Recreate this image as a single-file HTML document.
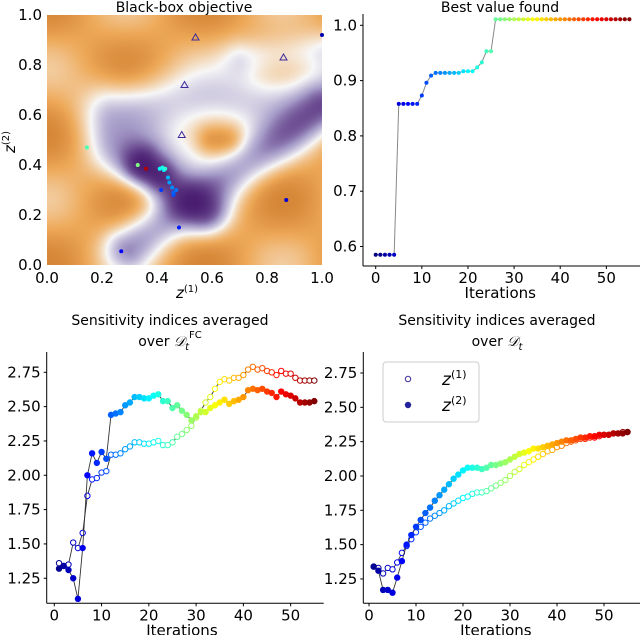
<!DOCTYPE html>
<html><head><meta charset="utf-8"><style>
body{margin:0;background:#fff;width:640px;height:635px;overflow:hidden;font-family:"DejaVu Sans","Liberation Sans",sans-serif}
#wrap{position:relative;width:640px;height:635px}
canvas{position:absolute;left:47px;top:15px}
svg{position:absolute;left:0;top:0}
</style></head><body>
<div id="wrap">
<canvas id="heat" width="275" height="250"></canvas>
<svg id="fig" width="640" height="635"></svg>
</div>
<script>
// ---- data ----
const bestIters=[...Array(56).keys()];
const bestValues=[0.585,0.585,0.585,0.585,0.585,0.858,0.858,0.858,0.858,0.858,0.873,0.896,0.909,0.914,0.914,0.914,0.914,0.914,0.914,0.917,0.917,0.917,0.924,0.933,0.953,0.953,1.011,1.011,1.011,1.011,1.011,1.011,1.011,1.011,1.011,1.011,1.011,1.011,1.011,1.011,1.011,1.011,1.011,1.011,1.011,1.011,1.011,1.011,1.011,1.011,1.011,1.011,1.011,1.011,1.011,1.011];
const bestYTicks=[0.6,0.7,0.8,0.9,1.0];
const iterTicks=[0,10,20,30,40,50];
const sensIters=[...Array(55).keys()].map(i=>i+1);
const fcZ1=[1.36,1.34,1.35,1.51,1.47,1.58,1.85,1.97,1.98,2.02,2.03,2.15,2.15,2.16,2.19,2.21,2.24,2.24,2.23,2.23,2.24,2.25,2.22,2.22,2.24,2.28,2.30,2.33,2.36,2.42,2.47,2.53,2.57,2.63,2.68,2.70,2.69,2.71,2.71,2.73,2.77,2.79,2.77,2.78,2.76,2.75,2.73,2.76,2.74,2.74,2.71,2.69,2.69,2.69,2.69];
const fcZ2=[1.32,1.34,1.31,1.25,1.10,1.47,2.00,2.16,2.09,2.17,2.12,2.44,2.45,2.46,2.51,2.53,2.57,2.57,2.56,2.56,2.58,2.59,2.54,2.54,2.49,2.51,2.47,2.44,2.40,2.43,2.46,2.46,2.49,2.51,2.53,2.55,2.52,2.54,2.55,2.57,2.62,2.63,2.62,2.63,2.61,2.60,2.57,2.61,2.59,2.58,2.56,2.53,2.53,2.53,2.54];
const dZ1=[1.34,1.33,1.29,1.33,1.32,1.37,1.44,1.49,1.54,1.59,1.63,1.66,1.69,1.71,1.73,1.75,1.78,1.80,1.82,1.84,1.85,1.87,1.88,1.88,1.89,1.91,1.93,1.95,1.97,2.00,2.03,2.05,2.08,2.10,2.12,2.14,2.16,2.18,2.19,2.21,2.22,2.24,2.25,2.26,2.27,2.27,2.28,2.28,2.29,2.30,2.30,2.31,2.31,2.32,2.32];
const dZ2=[1.34,1.31,1.17,1.17,1.15,1.26,1.38,1.50,1.57,1.63,1.68,1.73,1.77,1.82,1.86,1.90,1.94,1.98,2.01,2.04,2.06,2.06,2.06,2.05,2.06,2.08,2.08,2.09,2.10,2.12,2.14,2.16,2.17,2.18,2.20,2.20,2.21,2.22,2.23,2.24,2.25,2.26,2.26,2.27,2.28,2.28,2.29,2.29,2.30,2.30,2.30,2.31,2.31,2.31,2.32];
const sensYTicks=[1.25,1.50,1.75,2.00,2.25,2.50,2.75];
const unitTicks=[0.0,0.2,0.4,0.6,0.8,1.0];
const triX=[0.54,0.86,0.50,0.49];
const triY=[0.91,0.83,0.72,0.52];
const ptX=[1.0,0.87,0.27,0.48,0.415,0.46,0.46,0.47,0.455,0.445,0.44,0.145,0.33,0.41,0.42,0.425,0.43,0.36];
const ptY=[0.92,0.26,0.055,0.15,0.30,0.28,0.29,0.30,0.31,0.33,0.35,0.47,0.40,0.385,0.39,0.38,0.385,0.385];
const ptT=[0.05,0.08,0.12,0.15,0.18,0.2,0.22,0.24,0.26,0.28,0.3,0.45,0.5,0.38,0.4,0.36,0.42,0.95];

// ---- helpers ----
const NS='http://www.w3.org/2000/svg';
const svg=document.getElementById('fig');
function el(tag,attrs,parent){const e=document.createElementNS(NS,tag);for(const k in attrs)e.setAttribute(k,attrs[k]);(parent||svg).appendChild(e);return e;}
function cl(v){return Math.max(0,Math.min(1,v));}
function jet(t){const r=cl(1.5-Math.abs(4*t-3)),g=cl(1.5-Math.abs(4*t-2)),b=cl(1.5-Math.abs(4*t-1));return `rgb(${Math.round(r*255)},${Math.round(g*255)},${Math.round(b*255)})`;}
function txt(x,y,s,size,anchor,parent){const t=el('text',{x:x,y:y,'font-size':size,'text-anchor':anchor||'middle',fill:'#000'},parent);t.innerHTML=s;return t;}

// ---- heatmap ----
(function(){
 const c=document.getElementById('heat'),ctx=c.getContext('2d'),W=275,H=250;
 const img=ctx.createImageData(W,H);
 function seg(x,y,ax,ay,bx,by){const dx=bx-ax,dy=by-ay;let t=((x-ax)*dx+(y-ay)*dy)/(dx*dx+dy*dy);t=Math.max(0,Math.min(1,t));const px=ax+t*dx-x,py=ay+t*dy-y;return px*px+py*py;}
 function g(d2,s){return Math.exp(-d2/(2*s*s));}
 const stops=[[-1,[179,88,6]],[-0.5,[238,170,90]],[0,[247,247,247]],[0.5,[165,155,200]],[1,[60,10,100]]];
 function cmap(v){v=Math.max(-1,Math.min(1,v));for(let i=0;i<stops.length-1;i++){const a=stops[i],b=stops[i+1];if(v<=b[0]){const t=(v-a[0])/(b[0]-a[0]);return a[1].map((c,k)=>c+(b[1][k]-c)*t);}}return stops[4][1];}
 for(let j=0;j<H;j++)for(let i=0;i<W;i++){
  const x=i/(W-1),y=1-j/(H-1);
  const base=-0.5-0.25*Math.cos(11*x)*Math.cos(12*y);
  let S=0;
  S+=0.8*g(seg(x,y,0.30,0.07,1.0,0.62),0.065);
  S+=0.8*g(seg(x,y,0.34,0.40,0.58,0.20),0.06);
  S+=0.6*g(seg(x,y,0.36,0.38,0.40,0.36),0.05);
  S+=0.62*g(seg(x,y,0.24,0.62,1.0,0.68),0.09);
  S+=0.45*g(seg(x,y,0.72,0.83,1.0,0.86),0.06);
  S+=0.5*g(seg(x,y,0.25,0.45,0.5,0.45),0.08);
  S-=0.25*g(seg(x,y,0.6,0.5,0.66,0.5),0.04);
  const v=Math.tanh(1.2*(base+S*1.05));
  const c2=cmap(v),k=(j*W+i)*4;img.data[k]=c2[0];img.data[k+1]=c2[1];img.data[k+2]=c2[2];img.data[k+3]=255;}
 ctx.putImageData(img,0,0);
})();

// ---- panel 1: objective axes & markers ----
(function(){
 const X=v=>47+v*275,Y=v=>265-v*250;
 const g1=el('g',{});
 
 for(let i=0;i<triX.length;i++){const x=X(triX[i]),y=Y(triY[i]);const p=el('polygon',{points:`${x},${y-3.5} ${x-3.5},${y+2.5} ${x+3.5},${y+2.5}`,fill:'none',stroke:'#3b2a9a','stroke-width':1},g1);
  }
 for(let i=0;i<ptX.length;i++){const c=el('circle',{cx:X(ptX[i]),cy:Y(ptY[i]),r:2,fill:jet(ptT[i])},g1);
  }
 unitTicks.forEach(v=>{txt(X(v),283,v.toFixed(1),15,'middle',g1);txt(42,Y(v)+5,v.toFixed(1),15,'end',g1);});
 txt(184,12,'Black-box objective',14,'middle',g1);
 txt(187,298,'<tspan font-style="italic">z</tspan><tspan font-size="10" dy="-6">(1)</tspan>',15,'middle',g1);
 const yl=txt(0,0,'<tspan font-style="italic">z</tspan><tspan font-size="10" dy="-6">(2)</tspan>',15,'middle',g1);
 yl.setAttribute('transform','translate(15,142) rotate(-90)');
})();

// ---- line panels ----
function panel(name,left,bottom,top,x0,xs,Yf,yTicks,yfmt,titleX){
 const g=el('g',{});
 
 el('line',{x1:left,y1:top,x2:left,y2:bottom,stroke:'#000','stroke-width':1},g);
 el('line',{x1:left,y1:bottom,x2:left+277,y2:bottom,stroke:'#000','stroke-width':1},g);
 iterTicks.forEach(v=>{const x=x0+v*xs;el('line',{x1:x,y1:bottom,x2:x,y2:bottom+3,stroke:'#000'},g);txt(x,bottom+17,v,15,'middle',g);});
 yTicks.forEach(v=>{const y=Yf(v);el('line',{x1:left-3,y1:y,x2:left,y2:y,stroke:'#000'},g);txt(left-6,y+5,yfmt(v),15,'end',g);});
 txt(x0+27*xs,bottom+32,'Iterations',15,'middle',g);
 return g;
}
function series(g,xs,ys,X,Y,filled,r,lineCol){
 const pts=xs.map((v,i)=>X(v)+','+Y(ys[i])).join(' ');
 el('polyline',{points:pts,fill:'none',stroke:lineCol,'stroke-width':0.9},g);
 xs.forEach((v,i)=>{const c=jet((v)/55);const m=el('circle',{cx:X(v),cy:Y(ys[i]),r:r,fill:filled?c:'#fff',stroke:c,'stroke-width':1},g);
  });
}
// best value
(function(){
 const X=v=>375.7+v*4.613,Y=v=>25.3+(1.0-v)*553;
 const g=panel('best-value-panel',363,266,14,375.7,4.613,Y,bestYTicks,v=>v.toFixed(1),500);
 txt(500,12,'Best value found',14,'middle',g);
 const pts=bestIters.map((v,i)=>X(v)+','+Y(bestValues[i])).join(' ');
 el('polyline',{points:pts,fill:'none',stroke:'#888','stroke-width':1},g);
 bestIters.forEach((v,i)=>{const c=el('circle',{cx:X(v),cy:Y(bestValues[i]),r:2,fill:jet(v/55)},g);
  });
})();
// sensitivity FC
(function(){
 const X=v=>54.3+v*4.727,Y=v=>372.3+(2.75-v)*137.3;
 const g=panel('sensitivity-fc-panel',46.7,603.3,352,54.3,4.727,Y,sensYTicks,v=>v.toFixed(2),170);
 txt(170,325,'Sensitivity indices averaged',14,'middle',g);
 txt(170,346,'over <tspan font-style="italic" font-family="Liberation Serif">𝒟</tspan><tspan font-style="italic" font-size="10" dy="4">t</tspan><tspan font-size="10" dy="-12">FC</tspan>',14,'middle',g);
 series(g,sensIters,fcZ1,X,Y,false,2.7,'#333');
 series(g,sensIters,fcZ2,X,Y,true,2.7,'#333');
})();
// sensitivity D
(function(){
 const X=v=>369+v*4.7,Y=v=>373+(2.75-v)*137.3;
 const g=panel('sensitivity-d-panel',363.3,603.3,352,369,4.7,Y,sensYTicks,v=>v.toFixed(2),497);
 txt(497,325,'Sensitivity indices averaged',14,'middle',g);
 txt(497,346,'over <tspan font-style="italic" font-family="Liberation Serif">𝒟</tspan><tspan font-style="italic" font-size="10" dy="4">t</tspan>',14,'middle',g);
 series(g,sensIters,dZ1,X,Y,false,2.7,'#333');
 series(g,sensIters,dZ2,X,Y,true,2.7,'#333');
 const lg=el('g',{},g);
 
 el('rect',{x:383,y:362,width:96,height:60,rx:3,fill:'#fff',stroke:'#ccc'},lg);
 el('circle',{cx:408,cy:379,r:2.7,fill:'#fff',stroke:'#3b2a9a'},lg);
 el('circle',{cx:408,cy:405,r:2.7,fill:'#22229a',stroke:'#22229a'},lg);
 const e1=txt(442,385,'<tspan font-style="italic">z</tspan><tspan font-size="11" dy="-7">(1)</tspan>',17,'start',lg);
 
 const e2=txt(442,411,'<tspan font-style="italic">z</tspan><tspan font-size="11" dy="-7">(2)</tspan>',17,'start',lg);
 
})();
</script>
</body></html>
